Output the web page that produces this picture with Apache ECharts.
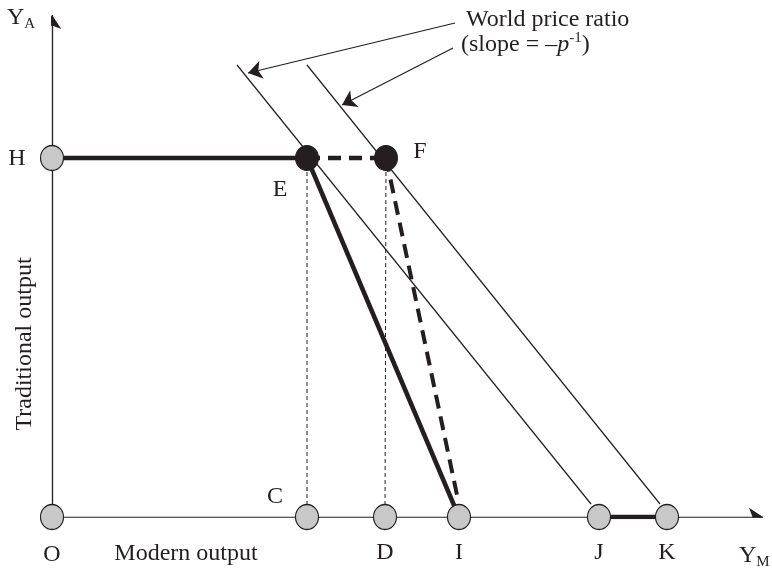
<!DOCTYPE html>
<html><head><meta charset="utf-8">
<script src="https://cdn.jsdelivr.net/npm/echarts@6/dist/echarts.min.js"></script>
<style>html,body{margin:0;padding:0;background:#fff}#c{width:772px;height:571px}</style>
</head><body><div id="c"></div>
<script>
// ---- data (diagram units) ----
const pointNames = ['O','H','E','F','C','D','I','J','K'];
const pointX = [0, 0, 255, 334, 255, 333, 407, 547, 615];
const pointY = [0, 359, 359, 359, 0, 0, 0, 0, 0];
const blackPoints = ['E','F'];
const worldLine1 = [[185, 452], [539, 13]];
const worldLine2 = [[255, 452], [608, 13]];
const pointerArrow1 = [[403, 494], [196, 444]];
const pointerArrow2 = [[401, 469], [290, 412]];
const axisXEnd = [711, 0];
const axisYEnd = [0, 502];
const dashedFEnd = [405, 22];
const thickSolid = [['H','E'], ['E','I'], ['J','K']];
const thinDashed = [['E','C'], ['F','D']];

const ink = '#231f20';
const serif = "'Liberation Serif','Times New Roman',serif";
const P = n => { const i = pointNames.indexOf(n); return [pointX[i], pointY[i]]; };

const chart = echarts.init(document.getElementById('c'));
const series = [];
function seg(a, b, width, type, z) {
  series.push({type:'line', data:[a, b], symbol:'none', showSymbol:false, silent:true, z:z,
    lineStyle:{color:ink, width:width, type:type, cap:'butt', opacity:1}});
}
// axes with arrows
series.push({type:'lines', coordinateSystem:'cartesian2d', silent:true, z:2,
  symbol:['none','arrow'], symbolSize:[10,14],
  lineStyle:{color:ink, width:1.3, opacity:1},
  data:[{coords:[[0,0], axisXEnd]}, {coords:[[0,0], axisYEnd]}]});
// pointer arrows
series.push({type:'lines', coordinateSystem:'cartesian2d', silent:true, z:2,
  symbol:['none','arrow'], symbolSize:[9,14],
  lineStyle:{color:ink, width:1.2, opacity:1},
  data:[{coords:pointerArrow1}, {coords:pointerArrow2}]});
// world price lines
seg(worldLine1[0], worldLine1[1], 1.2, 'solid', 3);
seg(worldLine2[0], worldLine2[1], 1.2, 'solid', 3);
// thin dashed verticals
thinDashed.forEach(s => seg(P(s[0]), P(s[1]), 1, [4,3], 3));
// thick solid
thickSolid.forEach(s => seg(P(s[0]), P(s[1]), 4.5, 'solid', 4));
// thick dashed
seg(P('E'), P('F'), 4.5, [13,8], 4);
seg(P('F'), dashedFEnd, 4, [14,8], 4);

const labelOffset = {O:[0,38], H:[-35,1], E:[-27,32], F:[34,-6], C:[-32,-20], D:[0,36], I:[0,36], J:[0,36], K:[0,36]};
series.push({type:'scatter', silent:true, z:10, symbolSize:[23,25],
  itemStyle:{opacity:1},
  data: pointNames.map((n, i) => ({
    name:n, value:[pointX[i], pointY[i]],
    itemStyle: blackPoints.includes(n) ? {color:ink, borderColor:ink, borderWidth:1, opacity:1} : {color:'#c8c8c8', borderColor:ink, borderWidth:1.2, opacity:1},
    label:{show:true, position:'inside', offset:labelOffset[n], formatter:'{b}', color:ink, opacity:1, fontSize:24, fontFamily:serif}
  }))});

chart.setOption({
  animation:false,
  backgroundColor:'#ffffff',
  grid:{left:52, right:9, top:15, bottom:54},
  xAxis:{type:'value', min:0, max:711, show:false},
  yAxis:{type:'value', min:0, max:502, show:false},
  series: series,
  graphic:[
    {type:'text', x:7, y:18, style:{text:'{m|Y}{s|A}', verticalAlign:'middle', fill:ink,
      rich:{m:{fontSize:24, fontFamily:serif, lineHeight:28, fill:ink}, s:{fontSize:15, fontFamily:serif, lineHeight:16, verticalAlign:'bottom', fill:ink}}}},
    {type:'text', x:739, y:556, style:{text:'{m|Y}{s|M}', verticalAlign:'middle', fill:ink,
      rich:{m:{fontSize:24, fontFamily:serif, lineHeight:28, fill:ink}, s:{fontSize:15, fontFamily:serif, lineHeight:16, verticalAlign:'bottom', fill:ink}}}},
    {type:'text', x:186, y:554, style:{text:'Modern output', align:'center', verticalAlign:'middle', fontSize:24, fontFamily:serif, fill:ink}},
    {type:'text', x:25, y:344, rotation:Math.PI/2, style:{text:'Traditional output', align:'center', verticalAlign:'middle', fontSize:24, fontFamily:serif, fill:ink}},
    {type:'text', x:466, y:20, style:{text:'World price ratio', align:'left', verticalAlign:'middle', fontSize:24, fontFamily:serif, fill:ink}},
    {type:'text', x:461, y:45, style:{text:'{m|(slope = –}{i|p}{s|-1}{m|)}', align:'left', verticalAlign:'middle', fill:ink,
      rich:{m:{fontSize:24, fontFamily:serif, lineHeight:28, fill:ink}, i:{fontSize:24, fontStyle:'italic', fontFamily:serif, lineHeight:28, fill:ink}, s:{fontSize:15, fontFamily:serif, lineHeight:18, verticalAlign:'top', fill:ink}}}}
  ]
});
</script></body></html>
